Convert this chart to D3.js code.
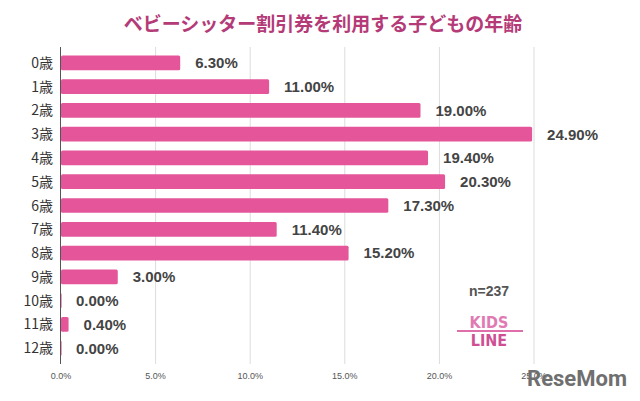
<!DOCTYPE html>
<html>
<head>
<meta charset="utf-8">
<script src="https://cdn.jsdelivr.net/npm/d3@7"></script>
<style>
body { margin: 0; background: #fff; }
svg { font-family: "Noto Sans CJK JP", "Noto Sans", sans-serif; }
</style>
</head>
<body>
<div id="chart"></div>
<script>

const ages = ["0歳", "1歳", "2歳", "3歳", "4歳", "5歳", "6歳", "7歳", "8歳", "9歳", "10歳", "11歳", "12歳"];
const shares = [6.3, 11.0, 19.0, 24.9, 19.4, 20.3, 17.3, 11.4, 15.2, 3.0, 0.0, 0.4, 0.0];
const ticks = [0, 5, 10, 15, 20, 25];

const W = 640, H = 401;
const svg = d3.select("#chart")
    .append("svg")
    .attr("width", W)
    .attr("height", H);

const x = d3.scaleLinear().domain([0, 25]).range([61, 534]);
const y = d3.scaleBand().domain(ages).range([51, 360]).paddingInner(0.38).paddingOuter(0.19);

// title
svg.append("text")
    .attr("x", 323)
    .attr("y", 31)
    .attr("text-anchor", "middle")
    .attr("font-size", 19)
    .attr("font-weight", "bold")
    .attr("fill", "#b43a78")
    .text("ベビーシッター割引券を利用する子どもの年齢");

// grid
svg.append("g")
    .selectAll("line")
    .data(ticks.slice(1))
    .join("line")
    .attr("x1", d => x(d))
    .attr("x2", d => x(d))
    .attr("y1", 47)
    .attr("y2", 364)
    .attr("stroke", "#dcdcdc")
    .attr("stroke-width", 1);

// x axis labels
svg.append("g")
    .selectAll("text")
    .data(ticks)
    .join("text")
    .attr("x", d => x(d))
    .attr("y", 379)
    .attr("text-anchor", "middle")
    .attr("font-size", 9)
    .attr("font-family", "Liberation Sans, Arial, sans-serif")
    .attr("fill", "#555")
    .text(d => d.toFixed(1) + "%");

// bars
svg.append("g")
    .selectAll("rect")
    .data(shares)
    .join("rect")
    .attr("x", x(0))
    .attr("y", (d, i) => y(ages[i]))
    .attr("width", d => Math.max(x(d) - x(0), 0.6))
    .attr("height", y.bandwidth())
    .attr("rx", 1.5)
    .attr("fill", "#e4559a");

// baseline
svg.append("line")
    .attr("x1", x(0) - 0.5)
    .attr("x2", x(0) - 0.5)
    .attr("y1", 47)
    .attr("y2", 364)
    .attr("stroke", "#555")
    .attr("stroke-width", 1);

// category labels
svg.append("g")
    .selectAll("text")
    .data(ages)
    .join("text")
    .attr("x", 53)
    .attr("y", d => y(d) + y.bandwidth() / 2)
    .attr("dy", "0.36em")
    .attr("text-anchor", "end")
    .attr("font-size", 14)
    .attr("fill", "#333")
    .text(d => d);

// value labels
svg.append("g")
    .selectAll("text")
    .data(shares)
    .join("text")
    .attr("x", d => x(d) + 15)
    .attr("y", (d, i) => y(ages[i]) + y.bandwidth() / 2)
    .attr("dy", "0.36em")
    .attr("font-size", 15)
    .attr("font-weight", "bold")
    .attr("font-family", "Liberation Sans, Arial, sans-serif")
    .attr("fill", "#444")
    .text(d => d.toFixed(2) + "%");

// n
svg.append("text")
    .attr("x", 489)
    .attr("y", 296)
    .attr("text-anchor", "middle")
    .attr("font-size", 14)
    .attr("font-weight", "bold")
    .attr("font-family", "Liberation Sans, Arial, sans-serif")
    .attr("fill", "#555")
    .text("n=237");

// KIDS LINE logo
const logo = svg.append("g").attr("font-family", "DejaVu Sans Condensed, sans-serif").attr("font-weight", "bold");
logo.append("line")
    .attr("x1", 457).attr("x2", 523).attr("y1", 331).attr("y2", 331)
    .attr("stroke", "#de6fab").attr("stroke-width", 2);
logo.append("text")
    .attr("x", 489).attr("y", 328)
    .attr("text-anchor", "middle").attr("font-size", 16)
    .attr("fill", "#e07ab2").text("KIDS");
logo.append("text")
    .attr("x", 489).attr("y", 346)
    .attr("text-anchor", "middle").attr("font-size", 16)
    .attr("fill", "#cf4f95").text("LINE");

// watermark
svg.append("text")
    .attr("x", 627)
    .attr("y", 386)
    .attr("text-anchor", "end")
    .attr("font-size", 22)
    .attr("font-weight", "bold")
    .attr("font-family", "Roboto, sans-serif")
    .attr("fill", "#6f6f6f")
    .text("ReseMom");

</script>
</body>
</html>
